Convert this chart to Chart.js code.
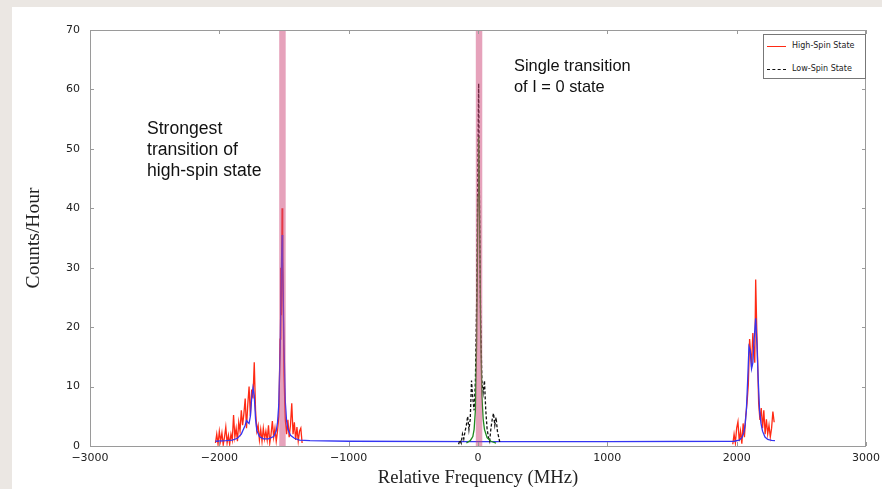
<!DOCTYPE html>
<html>
<head>
<meta charset="utf-8">
<script src="https://cdn.jsdelivr.net/npm/chart.js@4.4.1/dist/chart.umd.min.js"></script>
<style>
  html, body { margin: 0; padding: 0; background: #ebe7e3; }
  #panel { position: absolute; left: 12px; top: 7px; width: 870px; height: 482px; background: #fff; }
  #wrap { position: absolute; left: 0; top: 0; width: 882px; height: 489px; }
  .note { position: absolute; font-family: "Liberation Sans", Arial, sans-serif; font-size: 17px; line-height: 21px; color: #111; }
  #legend { position: absolute; left: 763px; top: 34px; width: 101px; height: 43px; border: 1px solid #777; background: #fff;
            font-family: "DejaVu Sans", sans-serif; font-size: 8px; color: #222; }
  .row { position: absolute; left: 0; height: 10px; }
  .swatch { position: absolute; left: 3px; top: 5px; width: 19px; height: 0; }
  .row span { position: absolute; left: 28px; top: 0; white-space: nowrap; line-height: 10px; }
</style>
</head>
<body>
<div id="panel"></div>
<div id="wrap"><canvas id="chart" width="882" height="489"></canvas></div>

<div class="note" style="left:147px; top:118px; font-size:17.6px;">Strongest<br>transition of<br>high-spin state</div>
<div class="note" style="left:514px; top:55px; font-size:16.4px;">Single transition<br>of I = 0 state</div>

<div id="legend">
  <div class="row" style="top:6px;"><div class="swatch" style="border-top:1.5px solid #ff2a14;"></div><span>High-Spin State</span></div>
  <div class="row" style="top:29px;"><div class="swatch" style="border-top:1.5px dashed #111;"></div><span>Low-Spin State</span></div>
</div>

<script>
// high-spin state, measured counts (MHz, counts/hour)
const redLeftFreq = [-2030, -2020, -2010, -2000, -1990, -1980, -1970, -1960, -1950, -1940,
  -1930, -1920, -1910, -1900, -1890, -1880, -1870, -1860, -1850, -1840,
  -1830, -1820, -1810, -1800, -1790, -1780, -1770, -1760, -1750, -1740,
  -1730, -1720, -1710, -1700, -1690, -1680, -1670, -1660, -1650, -1640,
  -1630, -1620, -1610, -1600, -1590, -1580, -1570, -1560, -1550, -1540,
  -1530, -1525, -1520, -1515, -1510, -1500, -1490, -1480, -1470, -1460,
  -1450, -1440, -1430, -1420, -1410, -1400, -1390, -1380, -1370, -1360];
const redLeftCounts = [0.5, 2.0, 0.3, 2.5, 0.8, 2.2, 0.2, 1.5, 3.2, 0.5,
  1.8, 0.3, 2.0, 1.0, 5.2, 1.5, 3.0, 0.8, 4.0, 2.5,
  6.0, 3.5, 5.5, 8.0, 3.0, 7.0, 10.0, 5.0, 9.5, 8.0,
  14.1, 6.0, 2.5, 3.5, 1.0, 2.8, 0.8, 3.0, 1.2, 2.5,
  1.0, 3.5, 0.5, 2.0, 4.2, 1.5, 3.0, 0.8, 2.5, 5.0,
  18, 30, 22, 40, 32, 12, 4.5, 2.0, 4.4, 1.5,
  3.5, 7.2, 2.0, 4.0, 1.0, 3.2, 0.8, 2.5, 3.0, 0.5];

const redRightFreq = [1970, 1980, 1990, 2000, 2010, 2020, 2030, 2040, 2050, 2060,
  2070, 2080, 2090, 2100, 2110, 2115, 2125, 2130, 2140, 2147,
  2155, 2160, 2170, 2180, 2190, 2200, 2210, 2220, 2230, 2240,
  2250, 2260, 2270, 2280, 2290];
const redRightCounts = [0.3, 2.0, 0.5, 3.0, 4.1, 0.8, 2.5, 0.4, 3.8, 1.5,
  5.0, 7.2, 10.3, 18, 15, 13.3, 19, 17, 14, 28,
  20, 16, 7.2, 4.4, 6.4, 3.0, 6.0, 2.0, 4.5, 2.0,
  3.5, 1.5, 3.0, 5.8, 4.0];

// high-spin fit
const blueFreq = [-2030, -1950, -1900, -1860, -1830, -1800, -1790, -1780, -1770, -1760,
  -1750, -1740, -1730, -1720, -1710, -1690, -1660, -1620, -1580, -1560,
  -1550, -1540, -1530, -1520, -1515, -1510, -1500, -1490, -1480, -1470,
  -1450, -1420, -1380, -1300, -1000, 0, 1000, 1980, 2020, 2040,
  2055, 2065, 2075, 2085, 2095, 2105, 2115, 2125, 2135, 2147,
  2157, 2167, 2177, 2188, 2200, 2219, 2240, 2270, 2296];
const blueCounts = [0.8, 0.9, 1.0, 1.3, 2.0, 3.5, 4.3, 4.0, 3.8, 5.0,
  8.0, 9.8, 8.5, 4.5, 2.6, 1.6, 1.2, 1.2, 1.6, 2.5,
  4.0, 7.0, 16, 30, 35.5, 31, 17, 7.5, 4.2, 2.8,
  1.8, 1.3, 1.0, 0.9, 0.8, 0.75, 0.75, 0.8, 1.0, 1.4,
  2.2, 3.5, 6.0, 11, 16.7, 16.0, 13, 14, 18, 21.5,
  17, 11, 6, 3.8, 2.5, 1.5, 1.1, 0.95, 0.9];

// low-spin state, measured counts
const blackFreq = [-150, -140, -130, -120, -110, -100, -90, -80, -70, -60,
  -50, -40, -30, -20, -10, 0, 5, 10, 20, 30,
  40, 50, 60, 70, 80, 90, 100, 110, 120, 130,
  140, 150, 160, 170];
const blackCounts = [0.3, 1.0, 0.5, 2.0, 1.2, 2.5, 3.5, 5.0, 2.8, 4.5,
  11, 8, 6, 11, 25, 50, 61, 45, 22, 11,
  9, 11, 6, 3, 1.5, 0.8, 3, 4.5, 5.5, 3.5,
  4.8, 2.5, 1.5, 0.5];

// low-spin fit
const greenFreq = [-90, -60, -40, -30, -20, -10, 0, 5, 10, 20, 30, 40, 50, 70, 100, 140];
const greenCounts = [0.5, 0.9, 1.6, 2.8, 6, 18, 42, 52, 44, 20, 8.5, 4.5, 2.8, 1.4, 0.8, 0.5];

// highlighted transitions (MHz)
const bandStart = [-1537, -17];
const bandEnd = [-1487, 33];

const xTicks = [-3000, -2000, -1000, 0, 1000, 2000, 3000];

function pts(xs, ys) {
  return xs.map((x, i) => ({ x: x, y: ys[i] }));
}

const bandsPlugin = {
  id: 'bands',
  afterDatasetsDraw(chart) {
    const { ctx, chartArea, scales } = chart;
    ctx.save();
    ctx.fillStyle = 'rgba(205, 70, 120, 0.5)';
    for (let i = 0; i < bandStart.length; i++) {
      const x0 = scales.x.getPixelForValue(bandStart[i]);
      const x1 = scales.x.getPixelForValue(bandEnd[i]);
      ctx.fillRect(x0, chartArea.top, x1 - x0, chartArea.bottom - chartArea.top);
    }
    ctx.restore();
  }
};

const framePlugin = {
  id: 'frame',
  afterDraw(chart) {
    const { ctx, chartArea: a, scales } = chart;
    ctx.save();
    ctx.strokeStyle = '#9a9a9a';
    ctx.lineWidth = 1;
    ctx.strokeRect(a.left + 0.5, a.top + 0.5, a.right - a.left - 1, a.bottom - a.top);
    ctx.beginPath();
    scales.x.ticks.forEach(t => {
      const px = Math.round(scales.x.getPixelForValue(t.value)) + 0.5;
      ctx.moveTo(px, a.bottom); ctx.lineTo(px, a.bottom - 4);
      ctx.moveTo(px, a.top); ctx.lineTo(px, a.top + 4);
    });
    scales.y.ticks.forEach(t => {
      const py = Math.round(scales.y.getPixelForValue(t.value)) + 0.5;
      ctx.moveTo(a.left, py); ctx.lineTo(a.left + 4, py);
      ctx.moveTo(a.right, py); ctx.lineTo(a.right - 4, py);
    });
    ctx.stroke();
    ctx.restore();
  }
};

const tickFont = { family: '"DejaVu Sans", sans-serif', size: 11 };

new Chart(document.getElementById('chart'), {
  type: 'line',
  data: {
    datasets: [
      { label: 'Low-Spin Fit', data: pts(greenFreq, greenCounts), borderColor: '#1f8a1f', borderWidth: 1.3, order: 1 },
      { label: 'Low-Spin State', data: pts(blackFreq, blackCounts), borderColor: '#111', borderWidth: 1.3, borderDash: [3, 2], order: 2 },
      { label: 'High-Spin Fit', data: pts(blueFreq, blueCounts), borderColor: '#3535f2', borderWidth: 1.3, order: 3 },
      { label: 'High-Spin State', data: pts(redLeftFreq, redLeftCounts), borderColor: '#ff2a14', borderWidth: 1.3, order: 4 },
      { label: 'High-Spin State R', data: pts(redRightFreq, redRightCounts), borderColor: '#ff2a14', borderWidth: 1.3, order: 4 }
    ]
  },
  options: {
    responsive: false,
    animation: false,
    devicePixelRatio: 1,
    elements: { point: { radius: 0 }, line: { tension: 0, fill: false } },
    layout: { padding: { left: 0, right: 16, top: 30, bottom: 0 } },
    plugins: { legend: { display: false }, tooltip: { enabled: false } },
    scales: {
      x: {
        type: 'linear', min: -3000, max: 3000,
        afterBuildTicks: s => { s.ticks = xTicks.map(v => ({ value: v })); },
        afterFit: s => { s.height = 43; s.paddingLeft = 0; s.paddingRight = 0; },
        grid: { display: false, drawTicks: false },
        border: { display: false },
        ticks: { font: tickFont, color: '#222', padding: 6, maxRotation: 0,
                 callback: v => v < 0 ? '\u2212' + Math.abs(v) : String(v) },
        title: { display: true, text: 'Relative Frequency (MHz)', color: '#222',
                 font: { family: '"Liberation Serif", serif', size: 18.6 }, padding: { top: 0, bottom: 0 } }
      },
      y: {
        min: 0, max: 70,
        afterFit: s => { s.width = 90; s.paddingTop = 0; s.paddingBottom = 0; },
        grid: { display: false, drawTicks: false },
        border: { display: false },
        ticks: { stepSize: 10, font: tickFont, color: '#222', padding: 10 },
        title: { display: true, text: 'Counts/Hour', color: '#222',
                 font: { family: '"Liberation Serif", serif', size: 19.5 }, padding: { top: 22, bottom: 0 } }
      }
    }
  },
  plugins: [bandsPlugin, framePlugin]
});
</script>
</body>
</html>
